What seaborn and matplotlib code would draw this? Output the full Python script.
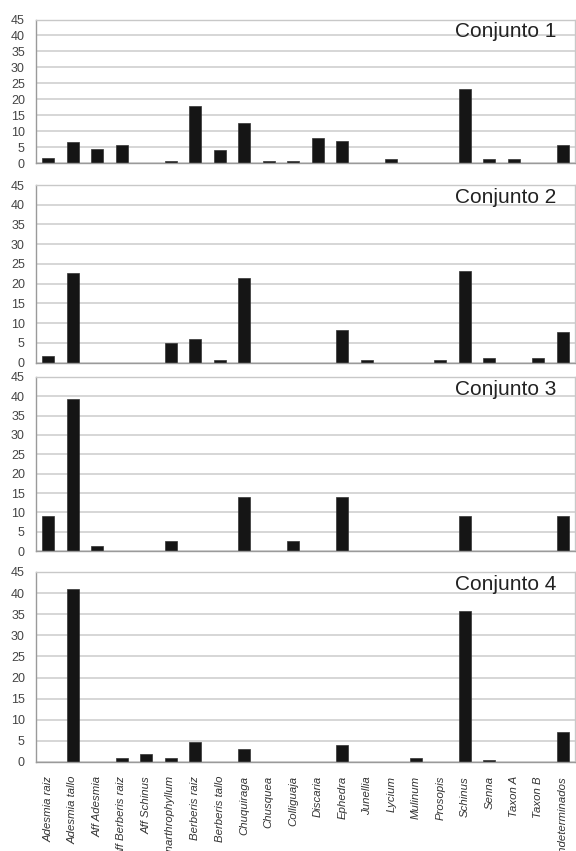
import numpy as np
import pandas as pd
import matplotlib
matplotlib.use('Agg')
import matplotlib.pyplot as plt
import seaborn as sns

sns.set_style('whitegrid')
plt.rcParams['font.family'] = ['Liberation Sans', 'DejaVu Sans']

categorias = [
    'Adesmia raiz', 'Adesmia tallo', 'Aff Adesmia', 'Aff Berberis raiz',
    'Aff Schinus', 'Anarthrophyllum', 'Berberis raiz', 'Berberis tallo',
    'Chuquiraga', 'Chusquea', 'Colliguaja', 'Discaria', 'Ephedra',
    'Junellia', 'Lycium', 'Mulinum', 'Prosopis', 'Schinus', 'Senna',
    'Taxon A', 'Taxon B', 'Indeterminados'
]

conjunto1 = [1.5, 6.7, 4.3, 5.7, 0, 0.6, 18.0, 4.0, 12.5, 0.6, 0.6, 7.7,
             7.0, 0, 1.1, 0, 0, 23.3, 1.1, 1.1, 0, 5.7]
conjunto2 = [1.7, 22.7, 0, 0, 0, 5.0, 6.0, 0.6, 21.5, 0, 0, 0,
             8.3, 0.6, 0, 0, 0.6, 23.2, 1.2, 0, 1.2, 7.8]
conjunto3 = [9.0, 39.3, 1.3, 0, 0, 2.7, 0, 0, 14.0, 0, 2.7, 0,
             14.0, 0, 0, 0, 0, 9.0, 0, 0, 0, 9.0]
conjunto4 = [0, 41.0, 0, 0.9, 1.8, 0.9, 4.8, 0, 3.1, 0, 0, 0,
             4.0, 0, 0, 0.9, 0, 35.7, 0.5, 0, 0, 7.0]

series = [conjunto1, conjunto2, conjunto3, conjunto4]
titulos = ['Conjunto 1', 'Conjunto 2', 'Conjunto 3', 'Conjunto 4']

# panel positions in pixels (top, bottom)
W, H = 576, 851
paneles = [(19.5, 163), (185, 362.5), (377, 551), (572, 762)]
left_px, right_px = 36, 575

fig = plt.figure(figsize=(W / 100, H / 100), dpi=100)

for i, (vals, titulo) in enumerate(zip(series, titulos)):
    top, bottom = paneles[i]
    ax = fig.add_axes([left_px / W, 1 - bottom / H,
                       (right_px - left_px) / W, (bottom - top) / H])
    df = pd.DataFrame({'Taxon': categorias, 'Valor': vals})
    sns.barplot(x='Taxon', y='Valor', data=df, ax=ax, order=categorias,
                color='#151515', saturation=1, width=0.5, edgecolor='#333333',
                linewidth=0.5)
    ax.set_xlim(-0.5, len(categorias) - 0.5)
    ax.set_ylim(0, 45)
    ax.set_yticks(np.arange(0, 46, 5))
    ax.set_xlabel('')
    ax.set_ylabel('')
    ax.grid(axis='y', color='#cfcfcf', linewidth=1.2)
    ax.grid(axis='x', visible=False)
    ax.set_axisbelow(True)

    for side in ['top', 'right']:
        ax.spines[side].set_color('#c8c8c8')
        ax.spines[side].set_linewidth(1.0)
    for side in ['left', 'bottom']:
        ax.spines[side].set_color('#9a9a9a')
        ax.spines[side].set_linewidth(1.0)

    ax.set_xticks(np.arange(-0.5, len(categorias), 1), minor=True)
    ax.tick_params(axis='x', which='major', length=0)
    ax.tick_params(axis='x', which='minor', length=3, color='#9a9a9a', width=0.8)
    ax.tick_params(axis='y', length=3, color='#9a9a9a', width=0.8,
                   labelsize=9, labelcolor='#444444', pad=5)

    if i < 3:
        ax.set_xticklabels([])
    else:
        ax.set_xticks(range(len(categorias)))
        ax.set_xticklabels(categorias, rotation=90, fontsize=8.2,
                           fontstyle='italic', color='#333333', va='top')
        ax.tick_params(axis='x', which='major', pad=10)

    ax.text(0.965, 0.985, titulo, transform=ax.transAxes, ha='right',
            va='top', fontsize=15, color='#222222')

plt.savefig('out.png', dpi=100)
